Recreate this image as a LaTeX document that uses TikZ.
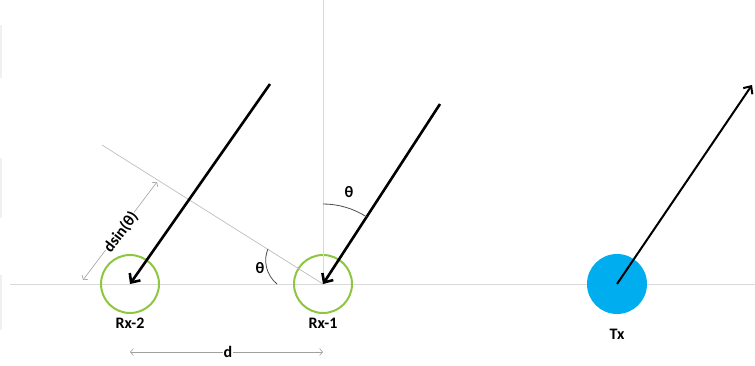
\documentclass[tikz,border=0pt]{standalone}
\usepackage{fontspec}
\setmainfont{Carlito}
\usetikzlibrary{arrows.meta}
\definecolor{rxgreen}{RGB}{141,198,63}
\definecolor{txblue}{RGB}{0,174,239}
\definecolor{lgray}{RGB}{217,217,217}
\definecolor{mgray}{RGB}{190,190,190}
\definecolor{dgray}{RGB}{160,160,160}
\tikzset{
  rxnode/.style={circle,draw=rxgreen,line width=2pt,minimum size=58pt,inner sep=0pt},
  txnode/.style={circle,fill=txblue,minimum size=60pt,inner sep=0pt},
  lbl/.style={font=\fontsize{16}{18}\selectfont\bfseries,inner sep=1pt},
  guide/.style={draw=lgray,line width=1pt},
  ray/.style={draw=black,line width=2.6pt,-{Straight Barb[length=7pt,width=13pt,line width=2.6pt]}},
  txray/.style={draw=black,line width=2pt,-{Straight Barb[length=6pt,width=11pt,line width=2pt]}},
  dim/.style={draw=dgray,line width=0.6pt,{Straight Barb[length=3pt,width=7pt]}-{Straight Barb[length=3pt,width=7pt]}},
  anglearc/.style={draw=black!70,line width=0.8pt},
}
\begin{document}
\begin{tikzpicture}[x=1pt,y=1pt]
\useasboundingbox (0,0) rectangle (755,365);
% faint edge strips
\draw[draw=black!6,line width=1.5pt] (0.75,287) -- (0.75,340);
\draw[draw=black!6,line width=1.5pt] (0.75,147) -- (0.75,207);
\draw[draw=black!6,line width=1.5pt] (0.75,35) -- (0.75,90);
% guide lines
\coordinate (hl) at (10,81);
\coordinate (hr) at (755,81);
\coordinate (vt) at (323,365);
\coordinate (sl) at (102,220);
\path[guide] (hl) -- (hr);
\node[rxnode] (rx2) at (130,81) {};
\node[rxnode] (rx1) at (323,81) {};
\node[txnode] (tx) at (617,81) {};
\path[guide] (rx1.center) -- (vt);
\path[draw=mgray,line width=0.7pt] (sl) -- (rx1.center);
% rays
\coordinate (s1) at (270,281);
\coordinate (s2) at (440,261);
\coordinate (e3) at (752,280);
\path[ray] (s1) -- (rx2.center);
\path[ray] (s2) -- (rx1.center);
\path[txray] (tx.center) -- (e3);
% angle arcs
\path[anglearc] (323,161) arc[start angle=90,end angle=57,radius=80];
\coordinate (a1) at (268,116);
\coordinate (a2) at (277,81);
\path[anglearc] (a1) .. controls (263,105) and (266,90) .. (a2);
\node[lbl] (th1) at (349,173) {θ};
\node[lbl] (th2) at (260,97) {θ};
% labels
\node[lbl] (l2) at (130,42) {Rx-2};
\node[lbl] (l1) at (323,42) {Rx-1};
\node[lbl] (lt) at (617,31) {Tx};
% dimension d
\coordinate (d1) at (130,13);
\coordinate (d2) at (323,13);
\path[dim] (d1) -- (d2);
\node[lbl,fill=white,inner sep=0.5pt] (dl) at (228,13) {d};
% dimension dsin
\coordinate (e1) at (83,85);
\coordinate (e2) at (157,183);
\path[dim] (e1) -- (e2);
\node[lbl,fill=white,inner sep=0.5pt,rotate=53] (dsl) at (121,133) {dsin(θ)};
\end{tikzpicture}
\end{document}
